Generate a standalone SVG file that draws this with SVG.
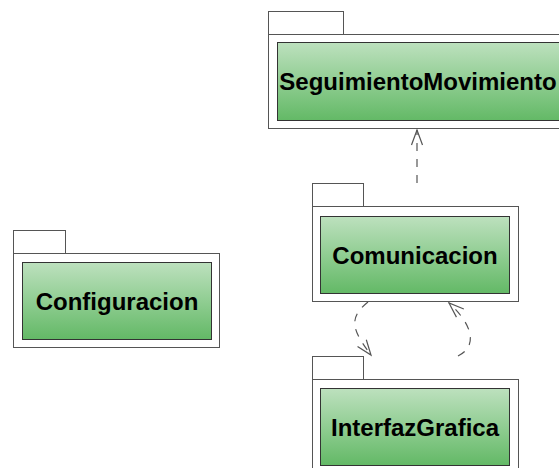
<svg xmlns="http://www.w3.org/2000/svg" width="559" height="468" viewBox="0 0 559 468">
<defs>
<linearGradient id="g" x1="0" y1="0" x2="0" y2="1">
<stop offset="0" stop-color="#bde1be"/>
<stop offset="1" stop-color="#63b966"/>
</linearGradient>
<marker id="arr" markerUnits="userSpaceOnUse" viewBox="-16 -8 18 16" refX="0" refY="0" markerWidth="18" markerHeight="16" orient="auto">
<path d="M-15,-5.5 L0,0 L-15,5.5" fill="none" stroke="#555" stroke-width="1.2"/>
</marker>
</defs>
<style>
.pkg{fill:#fff;stroke:#555;stroke-width:1}
.inner{fill:url(#g);stroke:#333;stroke-width:1}
.lbl{font-family:"Liberation Sans",Arial,sans-serif;font-weight:bold;font-size:24px;fill:#000;text-anchor:middle}
.dep{fill:none;stroke:#555;stroke-width:1.2;stroke-dasharray:8 8}
</style>
<rect width="559" height="468" fill="#fff"/>
<g id="SeguimientoMovimiento">
<rect class="pkg" x="268.5" y="11.5" width="75" height="23"/>
<rect class="pkg" x="268.5" y="34.5" width="310" height="94"/>
<rect class="inner" x="277.5" y="42.5" width="292" height="78"/>
<text class="lbl" x="418" y="89.5">SeguimientoMovimiento</text>
</g>
<g id="Comunicacion">
<rect class="pkg" x="312.5" y="183.5" width="51" height="23"/>
<rect class="pkg" x="312.5" y="206.5" width="206" height="95"/>
<rect class="inner" x="320.5" y="216.5" width="189" height="77"/>
<text class="lbl" x="415" y="263.5">Comunicacion</text>
</g>
<g id="InterfazGrafica">
<rect class="pkg" x="312.5" y="356.5" width="51" height="23"/>
<rect class="pkg" x="312.5" y="379.5" width="206" height="100"/>
<rect class="inner" x="320.5" y="388.5" width="189" height="77"/>
<text class="lbl" x="415" y="435.5">InterfazGrafica</text>
</g>
<g id="Configuracion">
<rect class="pkg" x="13.5" y="230.5" width="52" height="23"/>
<rect class="pkg" x="13.5" y="253.5" width="206" height="94"/>
<rect class="inner" x="22.5" y="262.5" width="189" height="77"/>
<text class="lbl" x="117" y="309.5">Configuracion</text>
</g>
<g id="connectors">
<path class="dep" d="M417,183 L417,130" marker-end="url(#arr)"/>
<path class="dep" d="M368,302 C348,318 352,330 371,355" marker-end="url(#arr)"/>
<path class="dep" d="M458,356 C480,345 470,322 449,303" marker-end="url(#arr)"/>
</g>
</svg>
